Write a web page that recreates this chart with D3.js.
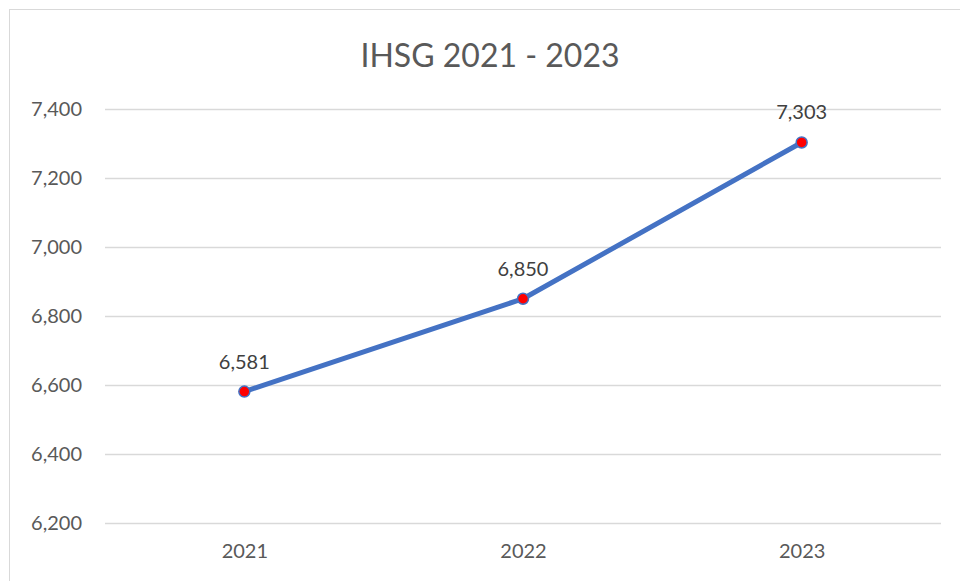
<!DOCTYPE html>
<html>
<head>
<meta charset="utf-8">
<script src="https://cdn.jsdelivr.net/npm/d3@7"></script>
<style>
  body { margin: 0; background: #fff; }
  svg { display: block; font-family: Lato, "Open Sans", sans-serif; }
</style>
</head>
<body>
<svg id="chart" width="960" height="581"></svg>
<script>
var years = ['2021', '2022', '2023'];
var values = [6581, 6850, 7303];
var yTicks = [6200, 6400, 6600, 6800, 7000, 7200, 7400];

var svg = d3.select('#chart');
var plotLeft = 105, plotRight = 941, plotTop = 109, plotBottom = 523;

// chart frame
svg.append('rect')
  .attr('x', 9.5).attr('y', 9.5)
  .attr('width', 980).attr('height', 600)
  .attr('fill', '#fff')
  .attr('stroke', '#d9d9d9');

var x = d3.scalePoint().domain(years).range([plotLeft, plotRight]).padding(0.5);
var y = d3.scaleLinear().domain([6200, 7400]).range([plotBottom, plotTop]);

// gridlines
svg.append('g')
  .selectAll('line')
  .data(yTicks)
  .enter()
  .append('line')
  .attr('x1', plotLeft).attr('x2', plotRight)
  .attr('y1', function(d) { return y(d) + 0.5; })
  .attr('y2', function(d) { return y(d) + 0.5; })
  .attr('stroke', '#d9d9d9')
  .attr('stroke-width', 1.3);

var fmt = d3.format(',');

// y axis labels
var yAxis = svg.append('g')
  .attr('transform', 'translate(82,0)')
  .call(d3.axisLeft(y).tickValues(yTicks).tickFormat(fmt).tickSize(0).tickPadding(0));
yAxis.select('.domain').remove();
yAxis.selectAll('text')
  .attr('fill', '#595959')
  .attr('font-size', 20)
  .attr('font-family', 'Lato, sans-serif');

// x axis labels
var xAxis = svg.append('g')
  .attr('transform', 'translate(0,' + (plotBottom + 21) + ')')
  .call(d3.axisBottom(x).tickSize(0).tickPadding(0));
xAxis.select('.domain').remove();
xAxis.selectAll('text')
  .attr('fill', '#595959')
  .attr('font-size', 20)
  .attr('font-family', 'Lato, sans-serif');

// title
svg.append('text')
  .attr('x', 490).attr('y', 67)
  .attr('text-anchor', 'middle')
  .attr('fill', '#595959')
  .attr('font-size', 32)
  .text('IHSG 2021 - 2023');

// line
var line = d3.line()
  .x(function(d, i) { return x(years[i]); })
  .y(function(d) { return y(d); });

svg.append('path')
  .datum(values)
  .attr('d', line)
  .attr('fill', 'none')
  .attr('stroke', '#4472c4')
  .attr('stroke-width', 5)
  .attr('stroke-linejoin', 'round');

svg.selectAll('circle.pt')
  .data(values)
  .enter()
  .append('circle')
  .attr('class', 'pt')
  .attr('cx', function(d, i) { return x(years[i]); })
  .attr('cy', function(d) { return y(d); })
  .attr('r', 5.5)
  .attr('fill', '#ff0000')
  .attr('stroke', '#4472c4')
  .attr('stroke-width', 1.5);

// data labels
svg.selectAll('text.lbl')
  .data(values)
  .enter()
  .append('text')
  .attr('class', 'lbl')
  .attr('x', function(d, i) { return x(years[i]); })
  .attr('y', function(d) { return y(d) - 23; })
  .attr('text-anchor', 'middle')
  .attr('fill', '#404040')
  .attr('font-size', 20)
  .text(function(d) { return fmt(d); });
</script>
</body>
</html>
